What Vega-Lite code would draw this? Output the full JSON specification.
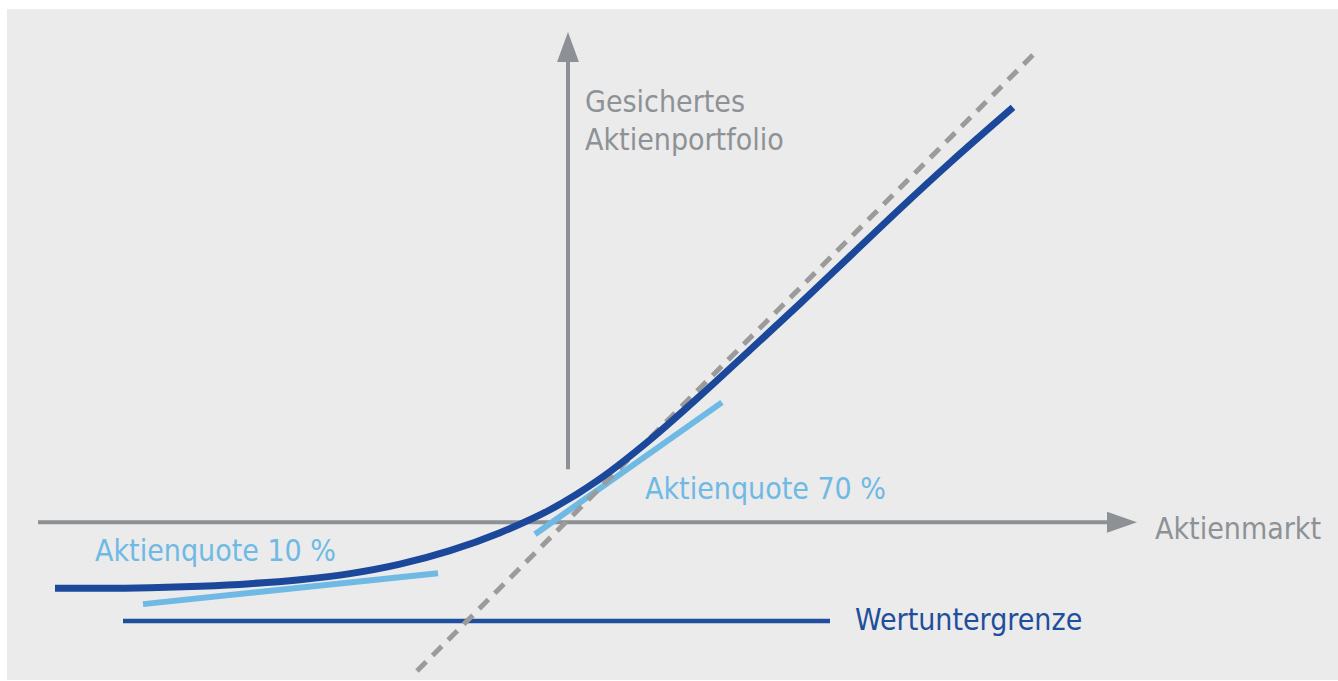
{
  "$schema": "https://vega.github.io/schema/vega-lite/v6.json",
  "width": 1338,
  "height": 681,
  "autosize": {"type": "fit", "contains": "padding"},
  "padding": {"left": 7, "top": 9, "right": 0, "bottom": 0},
  "background": "#ffffff",
  "config": {"view": {"stroke": null, "fill": "#ebebeb"}},
  "datasets": {
    "lines": [
      {"series": "xaxis", "order": 1, "x": -5.30, "y": 0},
      {"series": "xaxis", "order": 2, "x": 5.44, "y": 0},
      {"series": "yaxis", "order": 1, "x": 0, "y": 0.53},
      {"series": "yaxis", "order": 2, "x": 0, "y": 4.65},
      {"series": "dashed", "order": 1, "x": -1.51, "y": -1.49},
      {"series": "dashed", "order": 2, "x": 4.67, "y": 4.70},
      {"series": "floor", "order": 1, "x": -4.45, "y": -0.99},
      {"series": "floor", "order": 2, "x": 2.62, "y": -0.99},
      {"series": "q10", "order": 1, "x": -4.25, "y": -0.82},
      {"series": "q10", "order": 2, "x": -1.30, "y": -0.51},
      {"series": "q70", "order": 1, "x": -0.33, "y": -0.12},
      {"series": "q70", "order": 2, "x": 1.54, "y": 1.20},
      {"series": "cppi", "order": 1, "x": -5.13, "y": -0.66},
      {"series": "cppi", "order": 2, "x": -4.68, "y": -0.66},
      {"series": "cppi", "order": 3, "x": -4.18, "y": -0.655},
      {"series": "cppi", "order": 4, "x": -3.68, "y": -0.64},
      {"series": "cppi", "order": 5, "x": -3.18, "y": -0.615},
      {"series": "cppi", "order": 6, "x": -2.68, "y": -0.575},
      {"series": "cppi", "order": 7, "x": -2.18, "y": -0.515},
      {"series": "cppi", "order": 8, "x": -1.68, "y": -0.42},
      {"series": "cppi", "order": 9, "x": -1.18, "y": -0.285},
      {"series": "cppi", "order": 10, "x": -0.68, "y": -0.105},
      {"series": "cppi", "order": 11, "x": -0.18, "y": 0.125},
      {"series": "cppi", "order": 12, "x": 0.32, "y": 0.435},
      {"series": "cppi", "order": 13, "x": 0.82, "y": 0.825},
      {"series": "cppi", "order": 14, "x": 1.32, "y": 1.265},
      {"series": "cppi", "order": 15, "x": 1.82, "y": 1.725},
      {"series": "cppi", "order": 16, "x": 2.32, "y": 2.19},
      {"series": "cppi", "order": 17, "x": 2.82, "y": 2.665},
      {"series": "cppi", "order": 18, "x": 3.32, "y": 3.14},
      {"series": "cppi", "order": 19, "x": 3.82, "y": 3.60},
      {"series": "cppi", "order": 20, "x": 4.45, "y": 4.154}
    ],
    "arrows": [
      {"dir": "up", "x": 0, "y": 4.76},
      {"dir": "right", "x": 5.54, "y": 0}
    ],
    "labels": [
      {"label": "Gesichertes", "kind": "axis", "x": 0.17, "y": 4.11},
      {"label": "Aktienportfolio", "kind": "axis", "x": 0.17, "y": 3.73},
      {"label": "Aktienmarkt", "kind": "axis", "x": 5.87, "y": -0.17},
      {"label": "Aktienquote 70 %", "kind": "quote", "x": 0.77, "y": 0.23},
      {"label": "Aktienquote 10 %", "kind": "quote", "x": -4.73, "y": -0.39},
      {"label": "Wertuntergrenze", "kind": "floor", "x": 2.87, "y": -1.08}
    ]
  },
  "encoding": {
    "x": {"field": "x", "type": "quantitative", "scale": {"domain": [-5.61, 7.70], "nice": false, "zero": false}, "axis": null},
    "y": {"field": "y", "type": "quantitative", "scale": {"domain": [-1.58, 5.14], "nice": false, "zero": false}, "axis": null}
  },
  "layer": [
    {
      "data": {"name": "lines"},
      "transform": [{"filter": "datum.series === 'xaxis' || datum.series === 'yaxis'"}],
      "mark": {"type": "line", "color": "#8d9094", "strokeWidth": 4, "strokeCap": "butt"},
      "encoding": {"detail": {"field": "series"}, "order": {"field": "order"}}
    },
    {
      "data": {"name": "arrows"},
      "transform": [{"filter": "datum.dir === 'up'"}],
      "mark": {"type": "point", "shape": "M0,-1L0.73,1L-0.73,1Z", "size": 900, "filled": true, "color": "#8d9094", "opacity": 1, "strokeWidth": 0}
    },
    {
      "data": {"name": "arrows"},
      "transform": [{"filter": "datum.dir === 'right'"}],
      "mark": {"type": "point", "shape": "M1,0L-1,-0.7L-1,0.7Z", "size": 900, "filled": true, "color": "#8d9094", "opacity": 1, "strokeWidth": 0}
    },
    {
      "data": {"name": "lines"},
      "transform": [{"filter": "datum.series === 'floor'"}],
      "mark": {"type": "line", "color": "#1f4e9c", "strokeWidth": 4.5, "strokeCap": "butt"},
      "encoding": {"order": {"field": "order"}}
    },
    {
      "data": {"name": "lines"},
      "transform": [{"filter": "datum.series === 'q10' || datum.series === 'q70'"}],
      "mark": {"type": "line", "color": "#6fb9e5", "strokeWidth": 6, "strokeCap": "butt"},
      "encoding": {"detail": {"field": "series"}, "order": {"field": "order"}}
    },
    {
      "data": {"name": "lines"},
      "transform": [{"filter": "datum.series === 'dashed'"}],
      "mark": {"type": "line", "color": "#9b9b9b", "strokeWidth": 5, "strokeDash": [13, 9], "strokeCap": "butt"},
      "encoding": {"order": {"field": "order"}}
    },
    {
      "data": {"name": "lines"},
      "transform": [{"filter": "datum.series === 'cppi'"}],
      "mark": {"type": "line", "color": "#1b489a", "strokeWidth": 7, "strokeCap": "butt", "interpolate": "monotone"},
      "encoding": {"order": {"field": "order"}}
    },
    {
      "data": {"name": "labels"},
      "mark": {"type": "text", "align": "left", "baseline": "alphabetic", "font": "DejaVu Sans Condensed, sans-serif", "fontSize": 30},
      "encoding": {
        "text": {"field": "label"},
        "color": {"field": "kind", "type": "nominal", "scale": {"domain": ["axis", "quote", "floor"], "range": ["#8e9296", "#6fb9e5", "#1f4e9c"]}, "legend": null}
      }
    }
  ]
}
